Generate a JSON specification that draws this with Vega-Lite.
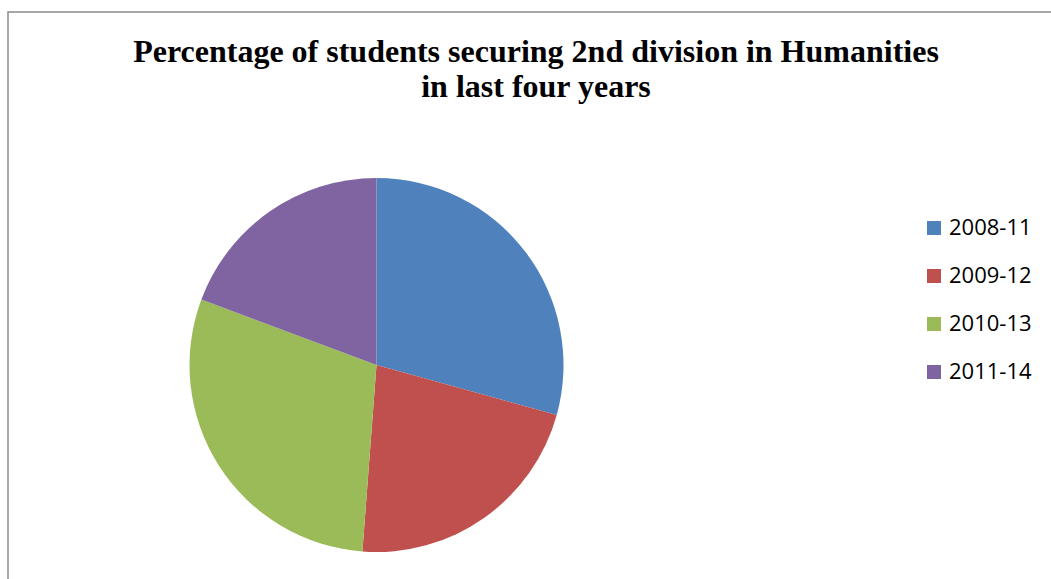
{
  "$schema": "https://vega.github.io/schema/vega-lite/v6.json",
  "autosize": {"type": "none"},
  "padding": {"left": 8, "top": 12, "right": 0, "bottom": 0},
  "width": 1100,
  "height": 620,
  "background": "white",
  "config": {"view": {"stroke": "#8a8a8a", "strokeWidth": 1.5}},
  "data": {"values": [
    {"period": "2008-11", "percent": 29.3, "idx": 1},
    {"period": "2009-12", "percent": 21.9, "idx": 2},
    {"period": "2010-13", "percent": 29.5, "idx": 3},
    {"period": "2011-14", "percent": 19.3, "idx": 4}
  ]},
  "layer": [
    {
      "mark": {"type": "arc", "outerRadius": 187, "x": 368.5, "y": 353},
      "encoding": {
        "theta": {"field": "percent", "type": "quantitative", "stack": true},
        "order": {"field": "idx", "type": "quantitative"},
        "color": {
          "field": "period", "type": "nominal",
          "scale": {"domain": ["2008-11", "2009-12", "2010-13", "2011-14"], "range": ["#4F81BD", "#C0504D", "#9BBB59", "#8064A2"]},
          "legend": {
            "title": null, "orient": "none", "legendX": 915, "legendY": 205,
            "symbolType": "square", "symbolSize": 196, "symbolStrokeWidth": 0,
            "labelFont": "Open Sans", "labelFontSize": 22, "labelColor": "black",
            "labelOffset": 4, "rowPadding": 26, "padding": 0
          }
        }
      }
    },
    {
      "data": {"values": [{"t": "Percentage of students securing 2nd division in Humanities", "yy": 1}, {"t": "in last four years", "yy": 2}]},
      "mark": {"type": "text", "font": "Liberation Serif", "fontWeight": "bold", "fontSize": 32, "color": "black", "align": "center", "baseline": "alphabetic", "x": 528},
      "encoding": {
        "text": {"field": "t"},
        "y": {"field": "yy", "type": "quantitative", "scale": {"domain": [1, 2], "range": [50, 85]}, "axis": null}
      }
    }
  ]
}
